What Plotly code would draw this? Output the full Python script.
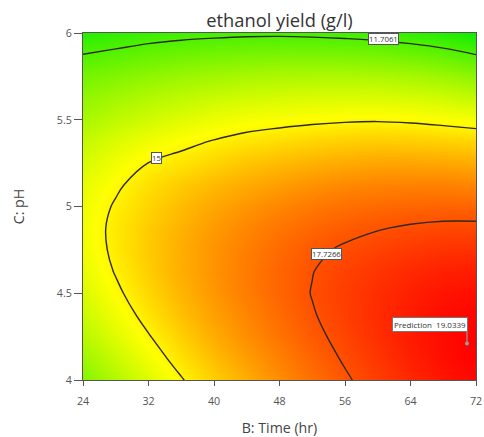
import plotly.graph_objects as go

# ---- data ----
time_hr = [24, 28, 32, 36, 40, 44, 48, 52, 56, 60, 64, 68, 72]
ph = [4.0, 4.125, 4.25, 4.375, 4.5, 4.625, 4.75, 4.875, 5.0,
      5.125, 5.25, 5.375, 5.5, 5.625, 5.75, 5.875, 6.0]

# ethanol yield (g/l); one list per pH row, columns = time
y_4000 = [12.61, 13.44, 14.22, 14.94, 15.61, 16.19, 16.72, 17.20, 17.64, 18.03, 18.40, 18.71, 18.95]
y_4125 = [13.09, 13.87, 14.61, 15.30, 15.92, 16.46, 16.94, 17.39, 17.80, 18.19, 18.55, 18.84, 19.05]
y_4250 = [13.51, 14.25, 14.95, 15.60, 16.19, 16.69, 17.14, 17.56, 17.93, 18.30, 18.62, 18.88, 19.06]
y_4375 = [13.87, 14.58, 15.26, 15.86, 16.40, 16.86, 17.29, 17.68, 18.02, 18.34, 18.62, 18.85, 18.99]
y_4500 = [14.15, 14.85, 15.49, 16.05, 16.55, 16.99, 17.38, 17.75, 18.05, 18.31, 18.55, 18.73, 18.84]
y_4625 = [14.39, 15.05, 15.64, 16.16, 16.62, 17.03, 17.39, 17.71, 17.98, 18.20, 18.39, 18.53, 18.60]
y_4750 = [14.54, 15.16, 15.70, 16.18, 16.60, 16.97, 17.31, 17.60, 17.81, 17.98, 18.13, 18.23, 18.28]
y_4875 = [14.59, 15.18, 15.68, 16.11, 16.50, 16.83, 17.12, 17.36, 17.55, 17.69, 17.80, 17.87, 17.88]
y_5000 = [14.53, 15.08, 15.54, 15.94, 16.29, 16.59, 16.85, 17.06, 17.22, 17.32, 17.39, 17.42, 17.40]
y_5125 = [14.37, 14.88, 15.35, 15.70, 15.98, 16.23, 16.45, 16.64, 16.78, 16.87, 16.91, 16.91, 16.84]
y_5250 = [14.09, 14.58, 15.01, 15.24, 15.53, 15.78, 15.96, 16.11, 16.23, 16.30, 16.31, 16.28, 16.20]
y_5375 = [13.74, 14.19, 14.55, 14.81, 15.04, 15.24, 15.38, 15.50, 15.59, 15.65, 15.63, 15.57, 15.48]
y_5500 = [13.28, 13.68, 14.00, 14.27, 14.50, 14.67, 14.77, 14.86, 14.92, 14.94, 14.89, 14.79, 14.67]
y_5625 = [12.86, 13.18, 13.46, 13.68, 13.87, 14.01, 14.10, 14.16, 14.19, 14.18, 14.10, 13.97, 13.75]
y_5750 = [12.36, 12.59, 12.83, 13.01, 13.15, 13.27, 13.34, 13.37, 13.38, 13.34, 13.24, 13.07, 12.77]
y_5875 = [11.72, 11.91, 12.11, 12.26, 12.37, 12.45, 12.49, 12.49, 12.46, 12.39, 12.25, 12.04, 11.71]
y_6000 = [10.99, 11.15, 11.32, 11.43, 11.50, 11.55, 11.56, 11.52, 11.45, 11.35, 11.18, 10.94, 10.57]

contour_levels = [11.7061, 15, 17.7266]
contour_label_text = ["11.7061", "15", "17.7266"]
contour_label_time = [60.7, 33.0, 53.8]
contour_label_ph = [5.964, 5.282, 4.724]

prediction_time = [70.9]
prediction_ph = [4.21]
prediction_value = 19.0339

x_ticks = [24, 32, 40, 48, 56, 64, 72]
y_ticks = [4, 4.5, 5, 5.5, 6]
y_ticktext = ["4", "4.5", "5", "5.5", "6"]

z = [y_4000, y_4125, y_4250, y_4375, y_4500, y_4625, y_4750, y_4875, y_5000,
     y_5125, y_5250, y_5375, y_5500, y_5625, y_5750, y_5875, y_6000]

FONT = "Open Sans"
AX = "#555555"

fig = go.Figure()

fig.add_trace(go.Heatmap(
    x=time_hr, y=ph, z=z, zsmooth="best", showscale=False,
    colorscale=[[0, "#10ec00"], [0.5, "#ffff00"], [1, "#ff0000"]],
    hoverinfo="skip",
))

for lv in contour_levels:
    fig.add_trace(go.Contour(
        x=time_hr, y=ph, z=z, showscale=False,
        contours=dict(start=lv, end=lv, size=1, coloring="none"),
        line=dict(color="#2e2a22", width=1.4, smoothing=1.0),
        hoverinfo="skip",
    ))

fig.add_trace(go.Scatter(
    x=prediction_time, y=prediction_ph, mode="markers",
    marker=dict(size=4, color="#9a9a9a"), hoverinfo="skip", showlegend=False,
))

fig.add_shape(type="line", xref="x", yref="y", x0=prediction_time[0], x1=prediction_time[0],
              ysizemode="pixel", yanchor=prediction_ph[0], y0=0, y1=13,
              line=dict(color="#9a9a9a", width=1.2))

fig.add_annotation(
    x=prediction_time[0], y=prediction_ph[0], xref="x", yref="y",
    text="Prediction\u00a0\u00a0%s" % prediction_value, showarrow=False,
    xanchor="right", yanchor="bottom", xshift=1, yshift=12,
    font=dict(family=FONT, size=8, color="#333333"),
    bgcolor="white", bordercolor="#777777", borderwidth=1, borderpad=1,
)

for t, xx, yy in zip(contour_label_text, contour_label_time, contour_label_ph):
    fig.add_annotation(
        x=xx, y=yy, xref="x", yref="y", text=t, showarrow=False,
        font=dict(family=FONT, size=7.8, color="#333333"),
        bgcolor="white", bordercolor="#555555", borderwidth=1, borderpad=0,
    )

fig.update_layout(
    width=490, height=442,
    margin=dict(l=83, r=8, t=33, b=54),
    paper_bgcolor="white", plot_bgcolor="white",
    showlegend=False,
    font=dict(family=FONT, color="#444444"),
    title=dict(text="ethanol yield (g/l)", x=0.5, xref="paper", xanchor="center",
               y=1 - 20.5 / 442, yref="container", yanchor="middle",
               font=dict(family=FONT, size=18.3, color="#333333")),
    xaxis=dict(range=[24, 72], tickvals=x_ticks, ticks="outside", ticklen=5,
               tickcolor=AX, showline=True, linecolor=AX, linewidth=1, mirror=True,
               showgrid=False, zeroline=False, ticklabelstandoff=6,
               tickfont=dict(size=10.7, color="#555555"),
               title=dict(text="B: Time (hr)", font=dict(size=14.2, color="#444444"), standoff=16)),
    yaxis=dict(range=[4, 6], tickvals=y_ticks, ticktext=y_ticktext, ticks="outside", ticklen=8,
               tickcolor=AX, showline=True, linecolor=AX, linewidth=1, mirror=True,
               showgrid=False, zeroline=False,
               tickfont=dict(size=10.7, color="#555555"),
               title=dict(text="C: pH", font=dict(size=14.2, color="#444444"), standoff=28)),
)

# remove the browser's default 8px body margin so the figure starts at the window corner
fig.write_html("out.html", config={"displayModeBar": False},
               post_script="document.body.style.margin='0px';")
